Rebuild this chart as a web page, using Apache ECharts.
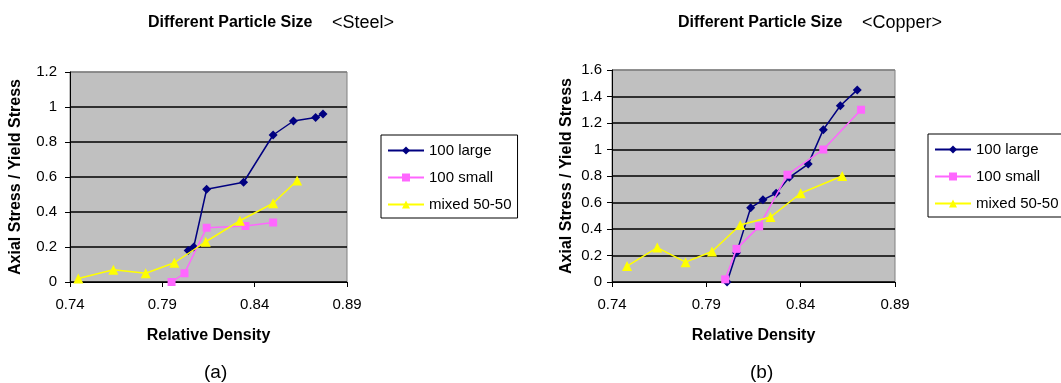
<!DOCTYPE html>
<html><head><meta charset="utf-8">
<script src="https://cdn.jsdelivr.net/npm/echarts@6/dist/echarts.min.js"></script>
<style>html,body{margin:0;padding:0;background:#fff}#c{width:1061px;height:383px}</style>
</head><body><div id="c"></div>
<script>
var xTicks = [0.74, 0.79, 0.84, 0.89];
var seriesNames = ['100 large', '100 small', 'mixed 50-50'];

var steelLargeX = [0.804, 0.807, 0.814, 0.834, 0.850, 0.861, 0.873, 0.877];
var steelLargeY = [0.18, 0.20, 0.53, 0.57, 0.84, 0.92, 0.94, 0.96];
var steelSmallX = [0.795, 0.802, 0.814, 0.835, 0.850];
var steelSmallY = [0.0, 0.05, 0.31, 0.32, 0.34];
var steelMixedX = [0.7445, 0.7635, 0.781, 0.7965, 0.8135, 0.832, 0.850, 0.863];
var steelMixedY = [0.02, 0.07, 0.05, 0.11, 0.23, 0.35, 0.45, 0.58];

var copperLargeX = [0.801, 0.806, 0.8135, 0.820, 0.827, 0.834, 0.844, 0.852, 0.861, 0.870];
var copperLargeY = [0.0, 0.22, 0.56, 0.62, 0.67, 0.79, 0.89, 1.15, 1.33, 1.45];
var copperSmallX = [0.800, 0.806, 0.818, 0.833, 0.852, 0.872];
var copperSmallY = [0.02, 0.25, 0.42, 0.81, 1.00, 1.30];
var copperMixedX = [0.748, 0.764, 0.779, 0.793, 0.808, 0.824, 0.840, 0.862];
var copperMixedY = [0.12, 0.26, 0.15, 0.23, 0.43, 0.49, 0.67, 0.80];

function pairs(xs, ys) { return xs.map(function (x, i) { return [x, ys[i]]; }); }

var FF = "'Liberation Sans', Arial, sans-serif";
var colors = ['#000080', '#ff66ff', '#ffff00'];
var symbols = ['diamond', 'rect', 'triangle'];
var sizes = [9, 8, 10];

function mkX(idx) {
  return {
    type: 'value', gridIndex: idx, min: xTicks[0], max: xTicks[xTicks.length - 1], interval: 0.05,
    name: 'Relative Density', nameLocation: 'middle', nameGap: 46,
    nameTextStyle: { fontFamily: FF, fontWeight: 'bold', fontSize: 16, color: '#000' },
    axisLine: { show: true, onZero: false, lineStyle: { color: '#000', width: 1 } },
    axisTick: { show: true, length: 5, lineStyle: { color: '#000' } },
    axisLabel: { fontFamily: FF, fontSize: 15, color: '#000', margin: 15,
      formatter: function (v) { return (Math.round(v * 100) / 100).toFixed(2); } },
    splitLine: { show: false }
  };
}
function mkY(idx, max, gap, lm) {
  var n = Math.round(max / 0.2);
  var sc = [];
  for (var i = 0; i <= n; i++) sc.push(i === n ? '#808080' : '#000');
  return {
    type: 'value', gridIndex: idx, min: 0, max: max, interval: 0.2,
    name: 'Axial Stress / Yield Stress', nameLocation: 'middle', nameGap: gap, nameRotate: 90,
    nameTextStyle: { fontFamily: FF, fontWeight: 'bold', fontSize: 16, color: '#000' },
    axisLine: { show: true, lineStyle: { color: '#000', width: 1 } },
    axisTick: { show: true, length: 5, lineStyle: { color: '#000' } },
    axisLabel: { fontFamily: FF, fontSize: 15, color: '#000', margin: lm },
    splitLine: { show: true, lineStyle: { color: sc, width: 1.5 } }
  };
}
function mkS(name, data, k, idx) {
  return {
    type: 'line', name: name, xAxisIndex: idx, yAxisIndex: idx, data: data,
    symbol: symbols[k], symbolSize: sizes[k], showSymbol: true,
    lineStyle: { color: colors[k], width: 1.5 },
    itemStyle: { color: colors[k], borderWidth: 0 },
    clip: false, animation: false, z: 3 + k
  };
}
function mkLegend(left, top) {
  return {
    orient: 'vertical', left: left, top: top, data: seriesNames,
    borderColor: '#000', borderWidth: 1, padding: [8, 6, 6, 6],
    itemWidth: 36, itemHeight: 10, itemGap: 12,
    textStyle: { fontFamily: FF, fontSize: 15, color: '#000' },
    selectedMode: false
  };
}
function boldTitle(text, left) {
  return { text: text, left: left, top: 10, textStyle: { fontFamily: FF, fontWeight: 'bold', fontSize: 16, color: '#000' } };
}
function normTitle(text, left, top, size) {
  return { text: text, left: left, top: top, textStyle: { fontFamily: FF, fontWeight: 'normal', fontSize: size, color: '#000' } };
}

var chart = echarts.init(document.getElementById('c'), null, { renderer: 'canvas' });
chart.setOption({
  animation: false,
  title: [
    boldTitle('Different Particle Size', 143),
    normTitle('<Steel>', 327, 9, 18),
    boldTitle('Different Particle Size', 673),
    normTitle('<Copper>', 857, 9, 18),
    normTitle('(a)', 199, 358, 19),
    normTitle('(b)', 745, 358, 19)
  ],
  legend: [mkLegend(381, 135), mkLegend(928, 134)],
  grid: [
    { left: 70, top: 72, width: 277, height: 210, show: true, backgroundColor: '#c0c0c0', borderColor: '#808080', borderWidth: 1 },
    { left: 612, top: 70, width: 283, height: 212, show: true, backgroundColor: '#c0c0c0', borderColor: '#808080', borderWidth: 1 }
  ],
  xAxis: [mkX(0), mkX(1)],
  yAxis: [mkY(0, 1.2, 46, 13), mkY(1, 1.6, 37, 10)],
  series: [
    mkS('100 large', pairs(steelLargeX, steelLargeY), 0, 0),
    mkS('100 small', pairs(steelSmallX, steelSmallY), 1, 0),
    mkS('mixed 50-50', pairs(steelMixedX, steelMixedY), 2, 0),
    mkS('100 large', pairs(copperLargeX, copperLargeY), 0, 1),
    mkS('100 small', pairs(copperSmallX, copperSmallY), 1, 1),
    mkS('mixed 50-50', pairs(copperMixedX, copperMixedY), 2, 1)
  ]
});
</script></body></html>
